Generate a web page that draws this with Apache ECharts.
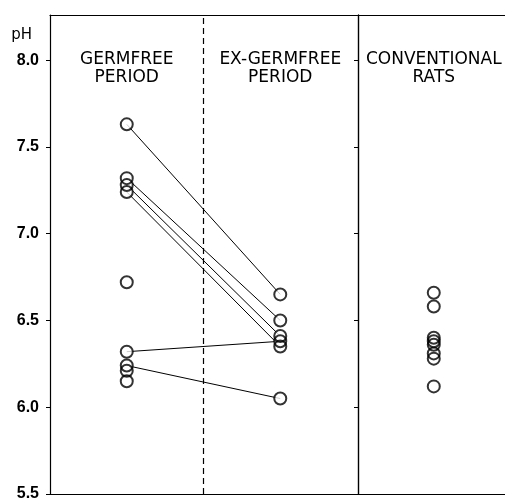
<!DOCTYPE html>
<html>
<head>
<meta charset="utf-8">
<script src="https://cdn.jsdelivr.net/npm/echarts@6/dist/echarts.min.js"></script>
<style>
  html, body { margin: 0; padding: 0; background: #fff; }
  #chart { width: 505px; height: 502px; }
</style>
</head>
<body>
<div id="chart"></div>
<script>
// column index: 1 = germfree, 2 = ex-germfree, 3 = conventional
const columns = ["GERMFREE\nPERIOD", "EX-GERMFREE\nPERIOD", "CONVENTIONAL\nRATS"];
const germfree = [7.63, 7.32, 7.28, 7.24, 6.72, 6.32, 6.24, 6.21, 6.15];
const exGermfree = [6.65, 6.50, 6.41, 6.38, 6.35, 6.05];
const conventional = [6.66, 6.58, 6.40, 6.38, 6.36, 6.31, 6.28, 6.12];
// same rat: germfree pH -> ex-germfree pH
const pairs = [[7.63, 6.65], [7.32, 6.50], [7.28, 6.41], [7.24, 6.35], [6.32, 6.38], [6.24, 6.05]];
const yTicks = [5.5, 6.0, 6.5, 7.0, 7.5, 8.0];

(function () {
  const chart = echarts.init(document.getElementById("chart"), null, { renderer: "canvas" });

  const ink = "#000";

  const points = [];
  germfree.forEach(v => points.push([1, v]));
  exGermfree.forEach(v => points.push([2, v]));
  conventional.forEach(v => points.push([3, v]));

  // connecting lines, one series per rat
  const lineSeries = pairs.map((p, i) => ({
    name: "pair" + i,
    type: "line",
    data: [[1, p[0]], [2, p[1]]],
    symbol: "none",
    silent: true,
    z: 2,
    lineStyle: { color: ink, width: 1 }
  }));

  const option = {
    animation: false,
    backgroundColor: "#fff",
    grid: { left: 50, top: 15, right: 0, bottom: 5, containLabel: false },

    xAxis: [
      {
        type: "value", min: 0.5, max: 3.464, position: "bottom",
        axisLine: { show: true, lineStyle: { color: ink, width: 1.2 } },
        axisTick: { show: false }, axisLabel: { show: false }, splitLine: { show: false }
      },
      {
        type: "value", min: 0.5, max: 3.464, position: "top",
        axisLine: { show: true, lineStyle: { color: ink, width: 1.2 } },
        axisTick: { show: false }, axisLabel: { show: false }, splitLine: { show: false }
      }
    ],

    yAxis: [
      {
        type: "value", min: 5.5, max: 8.26, position: "left",
        name: "pH", nameLocation: "end", nameGap: -28,
        nameTextStyle: { color: ink, fontFamily: "DejaVu Sans", fontSize: 15, align: "right", padding: [0, 18, 0, 0] },
        axisLine: { show: true, lineStyle: { color: ink, width: 1.2 } },
        axisTick: { show: true, length: 4, customValues: yTicks, lineStyle: { color: ink } },
        axisLabel: {
          customValues: yTicks, color: ink, fontFamily: "Liberation Sans", fontSize: 16, fontWeight: "bold", margin: 11,
          formatter: v => v.toFixed(1)
        },
        splitLine: { show: false }
      },
      {
        // solid divider before conventional rats, ticks pointing left
        type: "value", min: 5.5, max: 8.26, position: "left", offset: -308,
        axisLine: { show: true, lineStyle: { color: ink, width: 1.4 } },
        axisTick: { show: true, length: 4, customValues: yTicks, lineStyle: { color: ink } },
        axisLabel: { show: false }, splitLine: { show: false }
      }
    ],

    series: lineSeries.concat([
      {
        // white discs so lines stop at the circle edge
        name: "fill", type: "scatter", data: points, symbol: "circle", symbolSize: 12,
        itemStyle: { color: "#fff" }, silent: true, z: 3
      },
      {
        name: "rings", type: "scatter", data: points, symbol: "circle", symbolSize: 12,
        itemStyle: { color: "rgba(0,0,0,0)", borderColor: ink, borderWidth: 2 }, silent: true, z: 4,
        markLine: {
          silent: true, symbol: "none", label: { show: false },
          lineStyle: { color: ink, type: [6, 4], width: 1.2 },
          data: [{ xAxis: 1.503 }]
        }
      },
      {
        name: "headers", type: "scatter", symbolSize: 0, silent: true,
        data: columns.map((c, i) => [i + 1, 8.0, c]),
        itemStyle: { color: ink, opacity: 1 },
        label: {
          show: true, position: "inside", offset: [0, 8],
          formatter: p => p.data[2],
          color: ink, textBorderWidth: 0, textBorderColor: "transparent", opacity: 1,
          fontFamily: "DejaVu Sans", fontSize: 17, lineHeight: 18, align: "center"
        }
      }
    ])
  };

  chart.setOption(option);
})();
</script>
</body>
</html>
